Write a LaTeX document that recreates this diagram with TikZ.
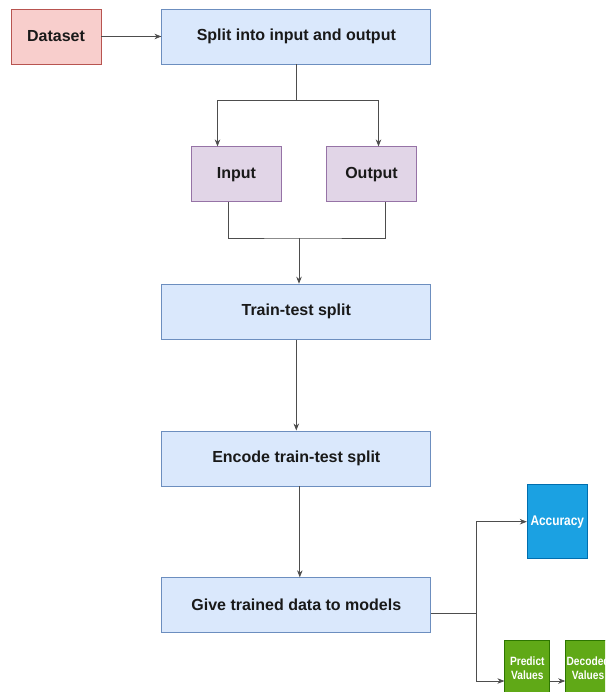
\documentclass[tikz,border=0pt]{standalone}
\usepackage{fontspec}
\setmainfont{Liberation Sans}
\newfontfamily\narrowfont[FakeStretch=0.85]{Liberation Sans}
\usetikzlibrary{positioning, arrows.meta}

\definecolor{redfill}{HTML}{F8CECC}
\definecolor{redline}{HTML}{B85450}
\definecolor{bluefill}{HTML}{DAE8FC}
\definecolor{blueline}{HTML}{6C8EBF}
\definecolor{purplefill}{HTML}{E1D5E7}
\definecolor{purpleline}{HTML}{9673A6}
\definecolor{accfill}{HTML}{1BA1E2}
\definecolor{accline}{HTML}{006EAF}
\definecolor{greenfill}{HTML}{60A917}
\definecolor{greenline}{HTML}{2D7600}
\definecolor{wire}{HTML}{4D4D4D}

\begin{document}
\begin{tikzpicture}[x=1pt, y=-1pt, >={Stealth[length=7pt, width=5.5pt]}, line width=0.8pt,
    every node/.style={font=\bfseries\fontsize{16}{19}\selectfont, text=black!90}]
\tikzstyle{block}=[draw=blueline, fill=bluefill, rectangle, align=center, minimum width=269pt, minimum height=55pt]
\tikzstyle{sourcebox}=[block, draw=redline, fill=redfill, minimum width=90pt]
\tikzstyle{partbox}=[block, draw=purpleline, fill=purplefill, minimum width=90pt]
\tikzstyle{resultbox}=[draw=accline, fill=accfill, rectangle, align=center, minimum width=60pt, minimum height=74pt, text=white, font=\narrowfont\bfseries\fontsize{14}{16}\selectfont]
\tikzstyle{smallbox}=[draw=greenline, fill=greenfill, rectangle, align=center, minimum width=45pt, minimum height=56pt, inner sep=1pt, text=white, font=\narrowfont\bfseries\fontsize{12}{14.5}\selectfont]
\tikzstyle{wire}=[draw=wire, line width=0.7pt]
\clip (0,0) rectangle (605,692);
\useasboundingbox (0,0) rectangle (605,692);

\node[sourcebox] (dataset) at (56,36.5) {Dataset};
\node[block, right=60pt of dataset] (split){Split into input and output};
\node[partbox, below=82pt of split, xshift=-59.8pt] (input){Input};
\node[partbox, below=82pt of split, xshift=75.2pt] (output){Output};
\node[block, below=219.3pt of split] (train){Train-test split};
\node[block, below=91pt of train] (encode){Encode train-test split};
\node[block, below=91pt of encode] (give){Give trained data to models};
\node[resultbox] (accuracy) at (557.3,521.7) {Accuracy};
\node[smallbox] (predict) at (527.3,668) {Predict\\Values};
\node[smallbox, right=15pt of predict] (decoded){Decoded\\Values};

\coordinate (merge) at (299,238);
\coordinate[right=45pt of give.east, yshift=-8.5pt] (fork);

\draw[wire, ->] (dataset) -- (split);
\draw[wire, ->] (split.south) -- ++(0,36) -| ([xshift=-19pt]input.north);
\draw[wire, ->] (split.south) -- ++(0,36) -| ([xshift=7pt]output.north);
\draw[wire] ([xshift=-7.7pt]input.south) |- (merge) -| ([xshift=14.3pt]output.south);
\draw[wire, ->] (merge) -- (merge |- train.north);
\draw[wire, ->] (train) -- (encode);
\draw[wire, ->] ([xshift=3.5pt]encode.south) -- ([xshift=3.5pt]give.north);
\draw[wire] ([yshift=-8.5pt]give.east) -- (fork);
\draw[wire, ->] (fork) |- (accuracy);
\draw[wire, ->] (fork) |- ([yshift=-13pt]predict.west);
\draw[wire, ->] ([yshift=-13pt]predict.east) -- ([yshift=-13pt]decoded.west);
\end{tikzpicture}
\end{document}
